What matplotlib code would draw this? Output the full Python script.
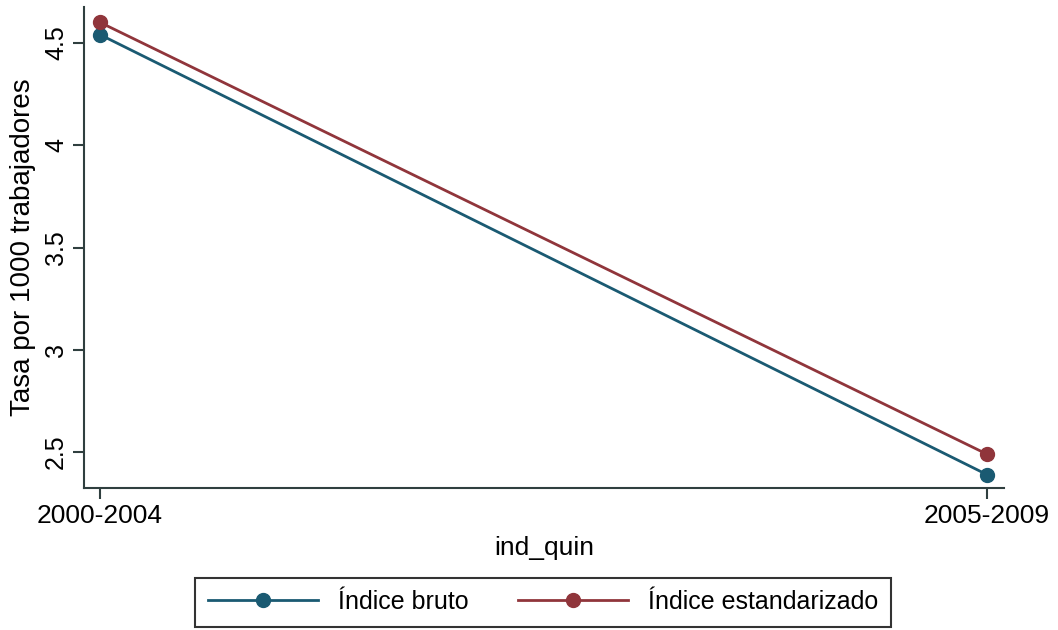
import numpy as np
import matplotlib.pyplot as plt

periodos = ["2000-2004", "2005-2009"]
indice_bruto = [4.54, 2.39]
indice_estandarizado = [4.60, 2.49]
y_ticks = [2.5, 3, 3.5, 4, 4.5]

plt.rcParams['font.family'] = ['Liberation Sans', 'DejaVu Sans']

fig = plt.figure(figsize=(10.58, 6.3), dpi=100)
ax = fig.add_axes([84 / 1058, 1 - 488 / 630, 920 / 1058, 481 / 630])

x = np.arange(len(periodos))
ax.plot(x, indice_bruto, color='#1a5a72', lw=2, marker='o', ms=10, label='Índice bruto')
ax.plot(x, indice_estandarizado, color='#90353b', lw=2, marker='o', ms=10, label='Índice estandarizado')

ax.set_xlim(-0.018, 1.019)
ax.set_ylim(2.325, 4.675)
ax.set_xticks(x)
ax.set_xticklabels(periodos, fontsize=19)
ax.set_yticks(y_ticks)
ax.set_yticklabels([f"{v:g}" for v in y_ticks], fontsize=18, rotation=90, va='center')
ax.tick_params(direction='out', length=8, width=1.5, color='#2f3f3f')
ax.set_ylabel("Tasa por 1000 trabajadores", fontsize=20, labelpad=6)
ax.set_xlabel("ind_quin", fontsize=19, labelpad=6)

for s in ['top', 'right']:
    ax.spines[s].set_visible(False)
for s in ['left', 'bottom']:
    ax.spines[s].set_linewidth(1.5)
    ax.spines[s].set_color('#2f3f3f')

leg = fig.legend(loc='center', bbox_to_anchor=(543 / 1058, 1 - 602 / 630), ncol=2,
                 fontsize=18, frameon=True, fancybox=False, edgecolor='black',
                 handlelength=4.4, columnspacing=2.0, borderpad=0.5)
leg.get_frame().set_linewidth(1.5)

fig.savefig("out.png", dpi=100)
